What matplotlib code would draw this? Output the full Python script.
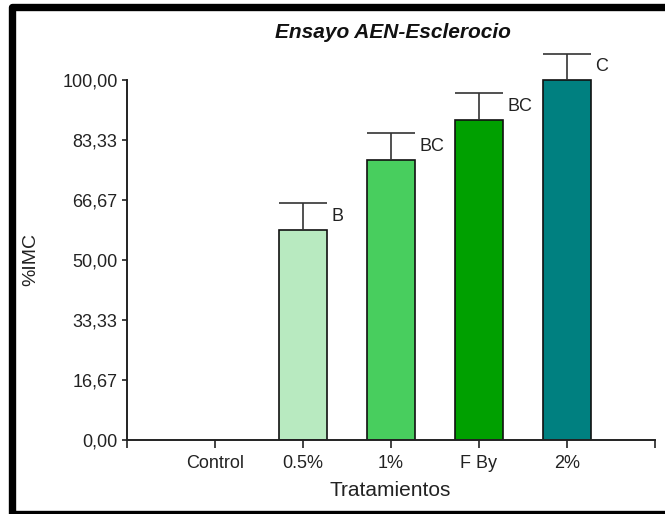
import matplotlib
matplotlib.use("Agg")
import matplotlib.pyplot as plt
from matplotlib.patches import Rectangle

plt.rcParams['font.family'] = ['Liberation Sans', 'DejaVu Sans']

# Treatments and mean %IMC with upper error
categories = ["Control", "0.5%", "1%", "F By", "2%"]
means = [0.0, 58.33, 77.78, 88.89, 100.0]
errors = [0.0, 7.4, 7.4, 7.4, 7.3]
letters = ["", "B", "BC", "BC", "C"]
colors = ["#FFFFFF", "#B8EAC0", "#48CE5E", "#00A000", "#008080"]
ytick_vals = [0.0, 16.67, 33.33, 50.0, 66.67, 83.33, 100.0]
ytick_labels = ["0,00", "16,67", "33,33", "50,00", "66,67", "83,33", "100,00"]

W, H = 665, 514
fig = plt.figure(figsize=(W / 100, H / 100), dpi=100)
ax = fig.add_axes([127 / W, 1 - 440 / H, 528 / W, 396 / H])

x = list(range(len(categories)))
bw = 0.55
ink = "#222222"

ax.bar(x[1:], means[1:], width=bw, color=colors[1:],
       edgecolor="#111111", linewidth=1.2, zorder=2)

# upper-only error bars with caps spanning the bar width
ax.errorbar(x[1:], means[1:], yerr=[[0] * 4, errors[1:]], fmt="none",
            ecolor="#333333", elinewidth=1.2, capsize=0, zorder=3)
ax.hlines([m + e for m, e in zip(means[1:], errors[1:])],
          [i - bw / 2 for i in x[1:]], [i + bw / 2 for i in x[1:]],
          colors="#333333", linewidth=1.2, zorder=3)

for i, m, e, t in zip(x, means, errors, letters):
    if t:
        ax.text(i + 0.32, m + e - 3.6, t, ha="left", va="center",
                fontsize=13, color=ink)

ax.set_xlim(-1, 5)
ax.set_ylim(0, 110)
ax.set_xticks([-1] + x + [5])
ax.set_xticklabels([""] + categories + [""], fontsize=13, color=ink)
ax.set_yticks(ytick_vals)
ax.set_yticklabels(ytick_labels, fontsize=13, color=ink)

for s in ("top", "right"):
    ax.spines[s].set_visible(False)
for s in ("left", "bottom"):
    ax.spines[s].set_linewidth(1.4)
    ax.spines[s].set_color("#222222")
ax.spines["left"].set_bounds(0, 100)

ax.tick_params(axis="y", direction="out", length=3.8, width=1.2,
               color="#222222", pad=3)
ax.tick_params(axis="x", direction="out", length=5.8, width=1.2,
               color="#222222", pad=5)

ax.set_xlabel("Tratamientos", fontsize=15, color=ink)
ax.set_ylabel("%IMC", fontsize=14, color=ink)
ax.yaxis.set_label_coords(39 / W, 1 - 260 / H, transform=fig.transFigure)
ax.xaxis.set_label_coords(390 / W, 1 - 481 / H, transform=fig.transFigure)

fig.text(393 / W, 1 - 33 / H, "Ensayo AEN-Esclerocio", ha="center",
         va="center", fontsize=15, fontweight="bold", fontstyle="italic",
         color="#111111")

# heavy frame running off the right edge
fig.patches.append(Rectangle((11.5 / W, 1 - 513.5 / H), 1.2, (513.5 - 7) / H,
                             transform=fig.transFigure, fill=False,
                             edgecolor="black", linewidth=5.3,
                             joinstyle="round", clip_on=False))

fig.savefig("out.png", dpi=100)
